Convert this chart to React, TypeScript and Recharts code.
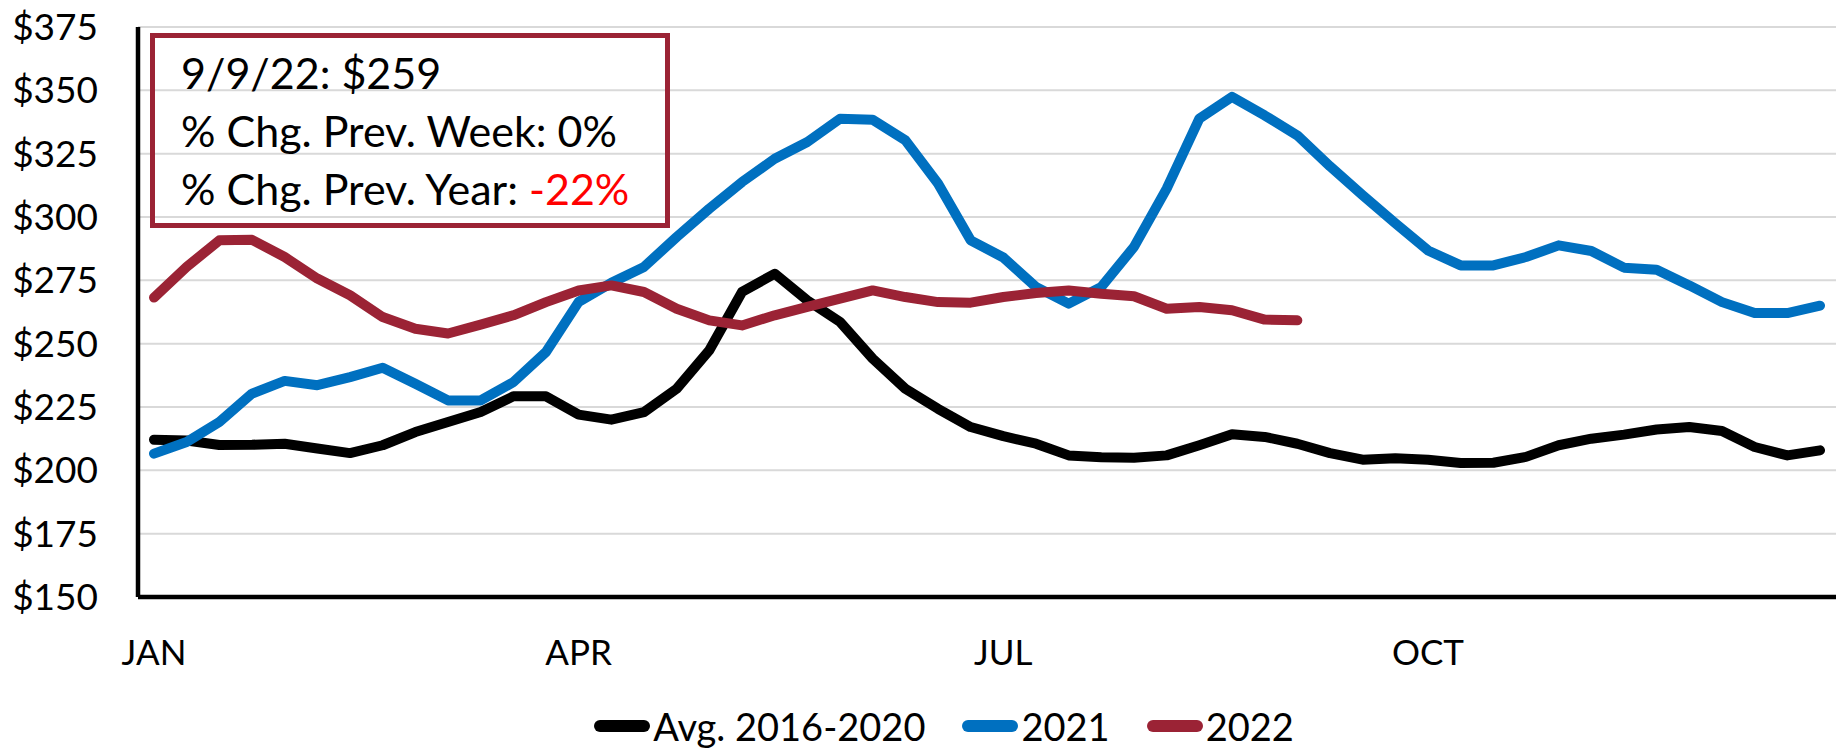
import { LineChart, Line, XAxis, YAxis, CartesianGrid, Legend } from "recharts";

// weekly price series
const WEEKS = [
  1, 2, 3, 4, 5, 6, 7, 8, 9, 10, 11, 12, 13,
  14, 15, 16, 17, 18, 19, 20, 21, 22, 23, 24, 25, 26,
  27, 28, 29, 30, 31, 32, 33, 34, 35, 36, 37, 38, 39,
  40, 41, 42, 43, 44, 45, 46, 47, 48, 49, 50, 51, 52,
];

const MONTH_LABELS = ["JAN", "APR", "JUL", "OCT"];
const Y_TICKS = [150, 175, 200, 225, 250, 275, 300, 325, 350, 375];

const AVG_2016_2020 = [
  212.1, 211.8, 210, 210.1, 210.5, 208.6, 206.8, 209.9, 215.1, 219.1, 223, 229.2, 229.2,
  222, 220, 223, 232.2, 247.4, 270.4, 277.6, 267.1, 258.6, 244.1, 232.2, 224.3, 217.1,
  213.5, 210.5, 205.9, 205.2, 205, 205.9, 209.9, 214.2, 213.2, 210.5, 206.8, 204.2, 204.8,
  204.2, 202.9, 203, 205.3, 209.9, 212.5, 214.1, 216.1, 217.1, 215.5, 209.2, 205.9, 207.9,
];

const Y2021 = [
  206.6, 211.2, 219.1, 230.3, 235.3, 233.6, 236.8, 240.5, 234.2, 227.6, 227.6, 234.8, 246.7,
  266.5, 274, 280.3, 292.1, 303.3, 313.8, 323, 329.6, 338.8, 338.4, 330.3, 313.2, 290.8,
  284, 272.4, 265.8, 272.4, 288.2, 311.2, 338.8, 347.4, 340.1, 332.2, 320, 308.6, 297.5,
  286.8, 280.9, 280.9, 284.2, 288.8, 286.6, 280, 279.2, 273, 266.4, 262.1, 262.1, 265,
];

const Y2022 = [
  268.2, 280.3, 290.8, 291, 284.2, 275.7, 269.1, 260.5, 255.9, 254, 257.5, 261.2, 266.4,
  271, 273, 270.4, 263.8, 259.2, 257.2, 261.2, 264.5, 267.8, 271, 268.4, 266.4, 266.2,
  268.4, 270, 271, 269.7, 268.7, 263.8, 264.5, 263.2, 259.5, 259.2,
];

const SERIES = [
  { key: "avg", name: "Avg. 2016-2020", color: "#000000" },
  { key: "y2021", name: "2021", color: "#0070C0" },
  { key: "y2022", name: "2022", color: "#9B2335" },
];

const FONT = "Lato, 'Open Sans', sans-serif";

const data = WEEKS.map((week, i) => ({
  week,
  avg: AVG_2016_2020[i],
  y2021: Y2021[i],
  y2022: Y2022[i],
}));

function LegendContent() {
  return (
    <div
      style={{
        height: 60,
        display: "flex",
        justifyContent: "center",
        alignItems: "flex-start",
        paddingTop: 19,
        paddingLeft: 52,
        boxSizing: "border-box",
        fontFamily: FONT,
        fontSize: 38,
        lineHeight: "38px",
        color: "#000",
      }}
    >
      {SERIES.map((s, i) => (
        <div
          key={s.key}
          style={{ display: "flex", alignItems: "center", marginLeft: i === 0 ? 0 : 37 }}
        >
          <svg width={56} height={14} style={{ marginRight: 3 }}>
            <line x1={6} y1={7} x2={50} y2={7} stroke={s.color} strokeWidth={12} strokeLinecap="round" />
          </svg>
          <span>{s.name}</span>
        </div>
      ))}
    </div>
  );
}

export default function App() {
  return (
    <div style={{ position: "absolute", left: 0, top: 0, width: 1845, height: 748, background: "#fff" }}>
      <LineChart
        width={1845}
        height={748}
        data={data}
        margin={{ top: 27, right: 9, bottom: 0, left: 0 }}
      >
        <CartesianGrid vertical={false} stroke="#D9D9D9" strokeWidth={2} />
        <XAxis
          dataKey="week"
          interval={12}
          padding={{ left: 16, right: 16 }}
          height={91}
          tickLine={false}
          tickSize={0}
          tickMargin={43}
          axisLine={{ stroke: "#000", strokeWidth: 4.5 }}
          tick={{ fill: "#000", fontSize: 35, fontFamily: FONT }}
          tickFormatter={(v) => MONTH_LABELS[(Number(v) - 1) / 13] ?? ""}
        />
        <XAxis
          xAxisId="top"
          dataKey="week"
          orientation="top"
          height={0}
          tick={false}
          tickLine={false}
          axisLine={{ stroke: "#000", strokeWidth: 4 }}
        />
        <YAxis
          domain={[150, 375]}
          ticks={Y_TICKS}
          width={138}
          tickLine={false}
          tickSize={0}
          tickMargin={40}
          axisLine={{ stroke: "#000", strokeWidth: 4.5 }}
          tick={{ fill: "#000", fontSize: 37, fontFamily: FONT }}
          tickFormatter={(v) => `$${v}`}
        />
        <YAxis
          yAxisId="right"
          orientation="right"
          domain={[150, 375]}
          width={0}
          tick={false}
          tickLine={false}
          axisLine={{ stroke: "#000", strokeWidth: 4 }}
        />
        <Legend verticalAlign="bottom" height={60} content={() => <LegendContent />} />
        {SERIES.map((s) => (
          <Line
            key={s.key}
            type="linear"
            dataKey={s.key}
            name={s.name}
            stroke={s.color}
            strokeWidth={10}
            strokeLinecap="round"
            strokeLinejoin="round"
            dot={false}
            activeDot={false}
            isAnimationActive={false}
          />
        ))}
      </LineChart>
      <div
        style={{
          position: "absolute",
          left: 150,
          top: 33,
          width: 520,
          height: 195,
          boxSizing: "border-box",
          border: "5px solid #9B2335",
          paddingTop: 6,
          paddingLeft: 26,
          fontFamily: FONT,
          fontSize: 43,
          lineHeight: "58px",
          color: "#000",
          whiteSpace: "nowrap",
        }}
      >
        <div>9/9/22: $259</div>
        <div>% Chg. Prev. Week: 0%</div>
        <div>
          % Chg. Prev. Year: <span style={{ color: "#FF0000" }}>-22%</span>
        </div>
      </div>
    </div>
  );
}
